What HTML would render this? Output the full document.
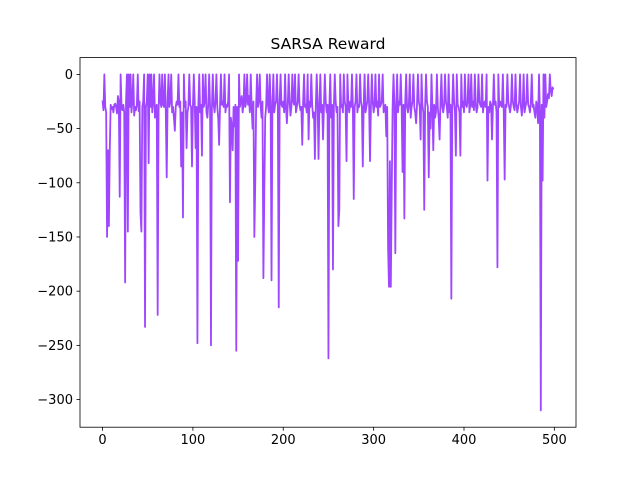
<!DOCTYPE html>
<html><head><meta charset="utf-8"><style>
body{margin:0;background:#fff;}
svg text{font-family:"DejaVu Sans","Liberation Sans",sans-serif;fill:#000;}
</style></head><body>
<svg id="chart" width="640" height="480" xmlns="http://www.w3.org/2000/svg">
<rect width="640" height="480" fill="#fff"/>
<text x="328" y="49" font-size="15.5" text-anchor="middle">SARSA Reward</text>
<g id="plot"></g>
<g id="axes"></g>
</svg>
<script>
const rewards = [
-24,-33,0,-30,-35,-150,-70,-140,-70,-28,-32,-30,-35,-28,-27,-30,-36,-20,-25,-113,0,-30,-33,-28,-35,
-192,-25,0,-145,0,-30,0,-35,-25,0,-38,-30,-33,-28,0,-34,-25,-128,-145,-30,-25,0,-233,-30,-25,
0,-82,0,-30,0,-35,-25,0,-40,-30,-28,-222,-35,0,-25,-30,0,-28,-30,0,-35,-95,-25,0,-30,
-25,0,-35,-30,-40,-52,-30,-25,-28,0,-30,-25,-85,-35,-132,0,-30,-25,-68,-35,-30,0,-28,-30,-85,
-30,0,-25,-68,-30,-248,-30,0,-35,-28,-75,0,-30,-25,0,-35,-40,-28,0,-30,-250,-32,0,-28,-35,
-25,0,-30,-40,-65,-30,0,-28,-25,-30,0,-35,-28,-30,-25,0,-118,-40,-48,-70,-30,-48,-28,-255,-30,
-172,0,-30,-25,-20,-35,-28,0,-30,-25,0,-28,-20,-35,0,-30,-50,-25,-150,-100,-28,0,-30,-25,0,
-30,-40,-25,-188,-110,-40,-30,0,-28,-35,0,-25,-190,-30,0,-35,-28,-25,0,-30,-215,-25,0,-28,-30,
-25,-35,0,-30,-45,-28,0,-25,-38,-30,0,-25,-28,0,-35,-30,-25,0,-28,-33,-30,-65,-25,0,-30,
-28,-35,0,-60,-25,-30,0,-28,-40,-35,-78,-30,0,-25,-78,-30,0,-35,-28,-60,-30,0,-25,-35,-28,
-262,-30,0,-40,-28,-180,-30,0,-25,-35,-30,-140,-125,0,-30,-28,-35,0,-25,-30,-80,0,-28,-35,-25,
-30,0,-28,-115,-30,-25,0,-35,-28,-30,0,-25,-30,-85,-28,0,-35,-30,-25,0,-28,-80,-30,0,-25,
-35,-28,0,-30,-25,-38,0,-30,-28,-25,0,-35,-30,-28,-57,-30,-160,-196,-80,-196,-110,-30,0,-28,-165,
-30,0,-35,-25,-28,0,-30,-90,-28,-133,-25,0,-30,-35,-28,0,-40,-30,-25,0,-30,-35,-45,-28,0,
-25,-30,-60,0,-28,-35,-125,-30,0,-25,-30,-95,-35,-50,0,-30,-70,-28,-40,-35,0,-30,-40,-60,-25,
0,-30,-35,-28,0,-25,-30,-40,0,-35,-28,-207,-30,0,-25,-35,-75,0,-28,-30,-35,-75,0,-30,-25,
-35,0,-28,-30,-25,0,-35,-28,0,-30,-25,-33,0,-28,-35,-30,0,-25,-28,-30,0,-35,-28,-25,-30,
0,-98,-30,-35,-25,-28,-60,-30,0,-28,-25,-35,-178,0,-30,-25,-28,-30,0,-35,-97,-28,-30,0,-25,
-30,-35,-28,0,-25,-30,-33,0,-28,-35,-30,-25,0,-30,-38,-28,0,-35,-30,-25,0,-28,-30,-35,-25,
0,-30,-28,-35,-40,-25,-30,-45,0,-35,-310,-28,-98,0,-40,0,-30,-25,-18,-22,0,-15,-20,-12,-14
];
const xTicks = [0,100,200,300,400,500];
const yTicks = [0,-50,-100,-150,-200,-250,-300];

const L=80,R=576,T=57.6,B=427.2;
const n=rewards.length;
const xmin=-0.05*(n-1), xmax=(n-1)*1.05;
const dmin=Math.min(...rewards), dmax=Math.max(...rewards);
const ymin=dmin-0.05*(dmax-dmin), ymax=dmax+0.05*(dmax-dmin);
const sx=v=>L+(v-xmin)/(xmax-xmin)*(R-L);
const sy=v=>B-(v-ymin)/(ymax-ymin)*(B-T);
const NS="http://www.w3.org/2000/svg";
const plot=document.getElementById('plot'), axes=document.getElementById('axes');

const line=document.createElementNS(NS,'polyline');
line.setAttribute('points',rewards.map((v,i)=>sx(i).toFixed(2)+','+sy(v).toFixed(2)).join(' '));
line.setAttribute('fill','none');line.setAttribute('stroke','#9f46ff');
line.setAttribute('stroke-width','1.8');line.setAttribute('stroke-linejoin','round');


plot.appendChild(line);

const frame=document.createElementNS(NS,'rect');
frame.setAttribute('x',L);frame.setAttribute('y',T);frame.setAttribute('width',R-L);frame.setAttribute('height',B-T);
frame.setAttribute('fill','none');frame.setAttribute('stroke','#000');frame.setAttribute('stroke-width','0.8');


axes.appendChild(frame);

xTicks.forEach(t=>{
  const x=sx(t);
  const tk=document.createElementNS(NS,'line');
  tk.setAttribute('x1',x);tk.setAttribute('x2',x);tk.setAttribute('y1',B);tk.setAttribute('y2',B+3.5);
  tk.setAttribute('stroke','#000');tk.setAttribute('stroke-width','0.8');
  
  
  axes.appendChild(tk);
  const tx=document.createElementNS(NS,'text');
  tx.setAttribute('x',x);tx.setAttribute('y',B+17);tx.setAttribute('font-size','13');tx.setAttribute('text-anchor','middle');
  tx.textContent=t;
  
  
  axes.appendChild(tx);
});
yTicks.forEach(t=>{
  const y=sy(t);
  const tk=document.createElementNS(NS,'line');
  tk.setAttribute('x1',L-3.5);tk.setAttribute('x2',L);tk.setAttribute('y1',y);tk.setAttribute('y2',y);
  tk.setAttribute('stroke','#000');tk.setAttribute('stroke-width','0.8');
  
  
  axes.appendChild(tk);
  const tx=document.createElementNS(NS,'text');
  tx.setAttribute('x',L-7);tx.setAttribute('y',y+4.5);tx.setAttribute('font-size','13');tx.setAttribute('text-anchor','end');
  tx.textContent=t===0?'0':'\u2212'+Math.abs(t);
  
  
  axes.appendChild(tx);
});
</script>
</body></html>
